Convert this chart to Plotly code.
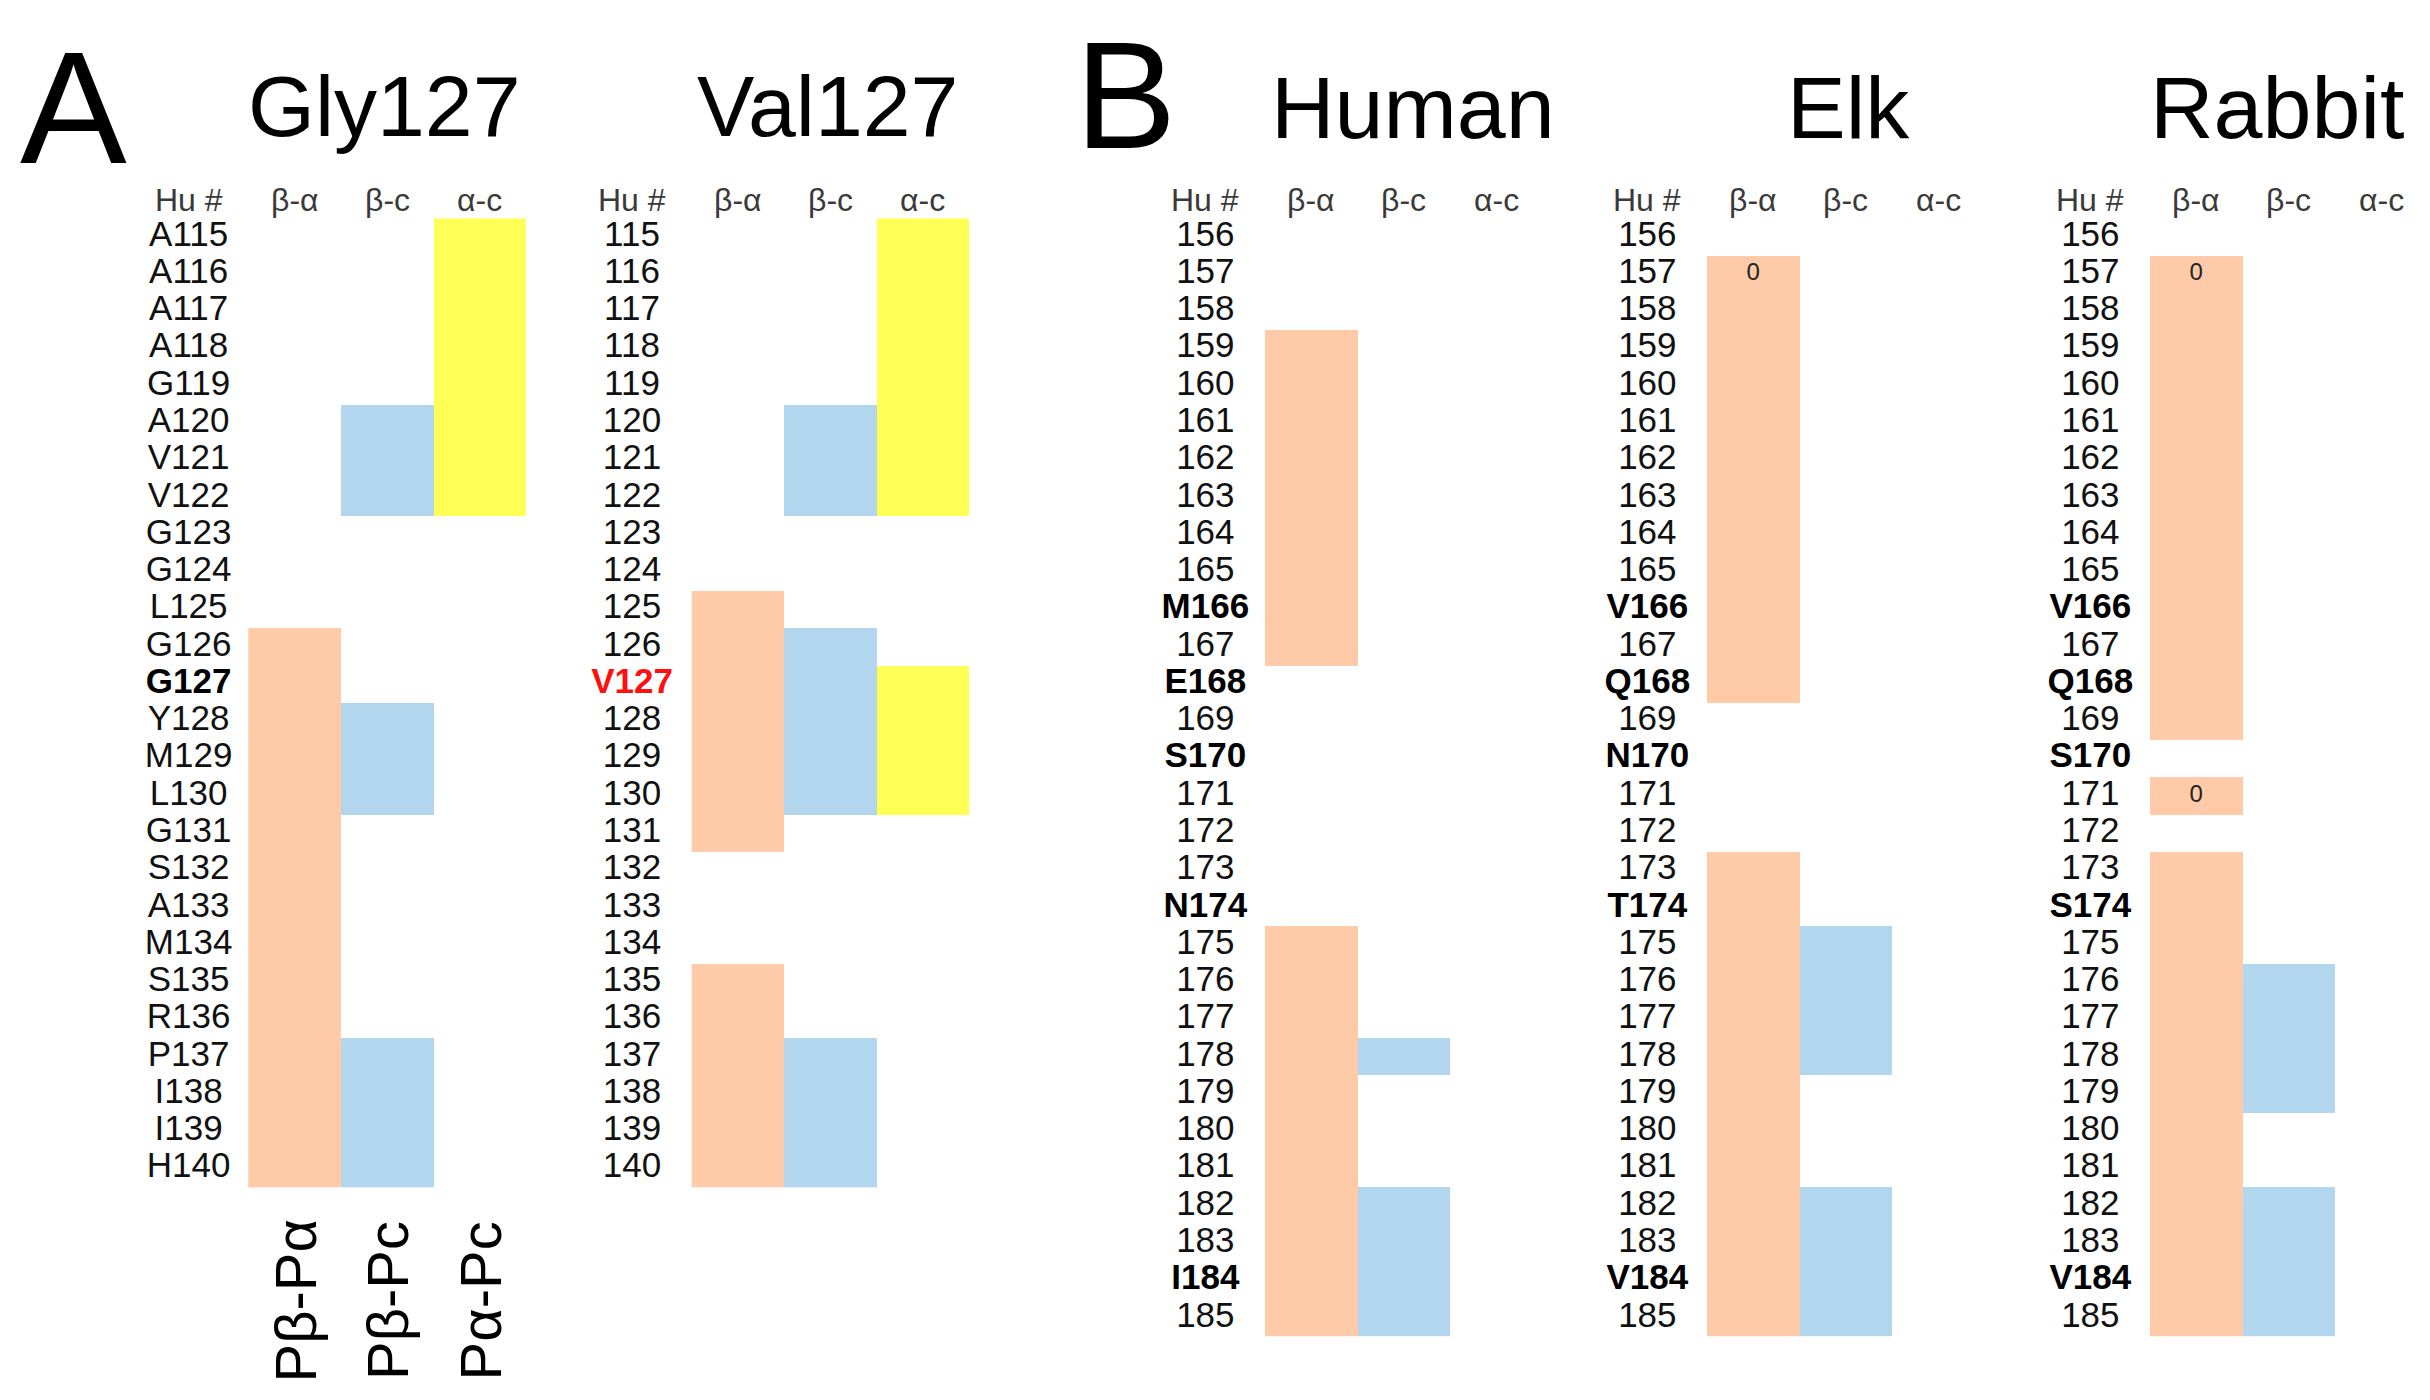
import plotly.graph_objects as go

# ---------------- data ----------------
col_headers = ["Hu #", "β-α", "β-c", "α-c"]
bottom_labels = ["Pβ-Pα", "Pβ-Pc", "Pα-Pc"]

gly_labels = ["A115", "A116", "A117", "A118", "G119", "A120", "V121", "V122", "G123", "G124",
              "L125", "G126", "G127", "Y128", "M129", "L130", "G131", "S132", "A133", "M134",
              "S135", "R136", "P137", "I138", "I139", "H140"]
gly_bold = ["G127"]
gly_ba = [(126, 140)]
gly_bc = [(120, 122), (128, 130), (137, 140)]
gly_ac = [(115, 122)]

val_labels = ["115", "116", "117", "118", "119", "120", "121", "122", "123", "124",
              "125", "126", "V127", "128", "129", "130", "131", "132", "133", "134",
              "135", "136", "137", "138", "139", "140"]
val_red = ["V127"]
val_ba = [(125, 131), (135, 140)]
val_bc = [(120, 122), (126, 130), (137, 140)]
val_ac = [(115, 122), (127, 130)]

human_labels = ["156", "157", "158", "159", "160", "161", "162", "163", "164", "165",
                "M166", "167", "E168", "169", "S170", "171", "172", "173", "N174", "175",
                "176", "177", "178", "179", "180", "181", "182", "183", "I184", "185"]
human_bold = ["M166", "E168", "S170", "N174", "I184"]
human_ba = [(159, 167), (175, 185)]
human_bc = [(178, 178), (182, 185)]
human_ac = []
human_zero = []

elk_labels = ["156", "157", "158", "159", "160", "161", "162", "163", "164", "165",
              "V166", "167", "Q168", "169", "N170", "171", "172", "173", "T174", "175",
              "176", "177", "178", "179", "180", "181", "182", "183", "V184", "185"]
elk_bold = ["V166", "Q168", "N170", "T174", "V184"]
elk_ba = [(157, 168), (173, 185)]
elk_bc = [(175, 178), (182, 185)]
elk_ac = []
elk_zero = [157]

rabbit_labels = ["156", "157", "158", "159", "160", "161", "162", "163", "164", "165",
                 "V166", "167", "Q168", "169", "S170", "171", "172", "173", "S174", "175",
                 "176", "177", "178", "179", "180", "181", "182", "183", "V184", "185"]
rabbit_bold = ["V166", "Q168", "S170", "S174", "V184"]
rabbit_ba = [(157, 169), (171, 171), (173, 185)]
rabbit_bc = [(176, 179), (182, 185)]
rabbit_ac = []
rabbit_zero = [157, 171]

# ---------------- layout constants ----------------
W, H = 2430, 1400
OFF = 8  # the page body has an 8px margin: positions below are page pixels minus OFF
FONT = "Liberation Sans, Arial, Helvetica, sans-serif"
SALMON, BLUE, YELLOW = "#FFCAA8", "#B2D6EE", "#FFFF55"
ROW_TOP, ROW_H, NROWS = 218.3 - OFF, 37.27, 30
CELL_W = 92.5
XMIN = -0.75
LABEL_X = -0.145


def px(x):
    return (x - OFF) / W


def py(y):
    return 1 - (y - OFF) / H


panels = [
    dict(title="Gly127", first=115, labels=gly_labels, bold=gly_bold, red=[],
         spans=[gly_ba, gly_bc, gly_ac], zeros=[], left=248.3, tx=384, ty=106, ts=86),
    dict(title="Val127", first=115, labels=val_labels, bold=[], red=val_red,
         spans=[val_ba, val_bc, val_ac], zeros=[], left=691.7, tx=827, ty=106, ts=86),
    dict(title="Human", first=156, labels=human_labels, bold=human_bold, red=[],
         spans=[human_ba, human_bc, human_ac], zeros=human_zero, left=1265, tx=1413, ty=107, ts=88),
    dict(title="Elk", first=156, labels=elk_labels, bold=elk_bold, red=[],
         spans=[elk_ba, elk_bc, elk_ac], zeros=elk_zero, left=1707, tx=1848, ty=107, ts=88),
    dict(title="Rabbit", first=156, labels=rabbit_labels, bold=rabbit_bold, red=[],
         spans=[rabbit_ba, rabbit_bc, rabbit_ac], zeros=rabbit_zero, left=2150, tx=2277, ty=107, ts=88),
]

fig = go.Figure()
layout_axes = {}
annotations = []

colorscale = [[0.0, SALMON], [0.3333, SALMON], [0.3334, BLUE], [0.6666, BLUE],
              [0.6667, YELLOW], [1.0, YELLOW]]

for i, p in enumerate(panels):
    xname = "x" if i == 0 else f"x{i+1}"
    axkey = "xaxis" if i == 0 else f"xaxis{i+1}"
    n = len(p["labels"])
    # build z matrix (rows x 3) from spans
    z = [[None, None, None] for _ in range(n)]
    for c, spans in enumerate(p["spans"]):
        for (a, b) in spans:
            for r in range(a - p["first"], b - p["first"] + 1):
                z[r][c] = c + 1
    fig.add_trace(go.Heatmap(
        x=[1, 2, 3], y=list(range(n)), z=z, zmin=1, zmax=3,
        colorscale=colorscale, showscale=False, hoverinfo="skip",
        xaxis=xname, yaxis="y"))

    # row labels
    texts, colors = [], []
    for lab in p["labels"]:
        if lab in p["red"]:
            texts.append(f"<b>{lab}</b>")
            colors.append("#FF1010")
        elif lab in p["bold"]:
            texts.append(f"<b>{lab}</b>")
            colors.append("#000000")
        else:
            texts.append(lab)
            colors.append("#111111")
    fig.add_trace(go.Scatter(
        x=[LABEL_X] * n, y=list(range(n)), mode="text", text=texts,
        textposition="middle center",
        textfont=dict(family=FONT, size=35, color=colors),
        cliponaxis=False, hoverinfo="skip", xaxis=xname, yaxis="y"))

    # zero markers
    if p["zeros"]:
        fig.add_trace(go.Scatter(
            x=[1] * len(p["zeros"]), y=[r - p["first"] for r in p["zeros"]],
            mode="text", text=["0"] * len(p["zeros"]), textposition="middle center",
            textfont=dict(family=FONT, size=24, color="#222222"),
            cliponaxis=False, hoverinfo="skip", xaxis=xname, yaxis="y"))

    # column headers
    for hx, ht in zip([LABEL_X, 1, 2, 3], col_headers):
        annotations.append(dict(text=ht, x=hx, y=py(200), xref=xname, yref="paper",
                                showarrow=False, xanchor="center", yanchor="middle",
                                font=dict(family=FONT, size=32, color="#3a3a3a")))

    left_px = p["left"] - (0.5 - XMIN) * CELL_W
    right_px = p["left"] + 3 * CELL_W
    layout_axes[axkey] = dict(domain=[px(left_px), px(right_px)], range=[XMIN, 3.5],
                              visible=False, anchor="y", fixedrange=True)

    annotations.append(dict(text=p["title"], x=px(p["tx"]), y=py(p["ty"]),
                            xref="paper", yref="paper", showarrow=False,
                            xanchor="center", yanchor="middle",
                            font=dict(family=FONT, size=p["ts"], color="#000000")))

# panel letters
annotations.append(dict(text="A", x=px(73), y=py(107), xref="paper", yref="paper",
                        showarrow=False, xanchor="center", yanchor="middle",
                        font=dict(family=FONT, size=160, color="#000000")))
annotations.append(dict(text="B", x=px(1125), y=1, xref="paper", yref="paper",
                        showarrow=False, xanchor="center", yanchor="top",
                        font=dict(family=FONT, size=152, color="#000000")))

# rotated bottom labels under Gly127 columns
for k, lab in enumerate(bottom_labels):
    annotations.append(dict(text=lab, x=k + 1, y=py(1301), xref="x", yref="paper",
                            showarrow=False, textangle=-90, xanchor="center", yanchor="middle",
                            font=dict(family=FONT, size=58, color="#000000")))

fig.update_layout(
    width=W, height=H, margin=dict(l=0, r=0, t=0, b=0),
    paper_bgcolor="white", plot_bgcolor="white", showlegend=False,
    yaxis=dict(domain=[1 - (ROW_TOP + NROWS * ROW_H) / H, 1 - ROW_TOP / H],
               range=[NROWS - 0.5, -0.5], visible=False, fixedrange=True),
    annotations=annotations,
    **layout_axes,
)

fig.write_html("out.html", config={"displayModeBar": False})
